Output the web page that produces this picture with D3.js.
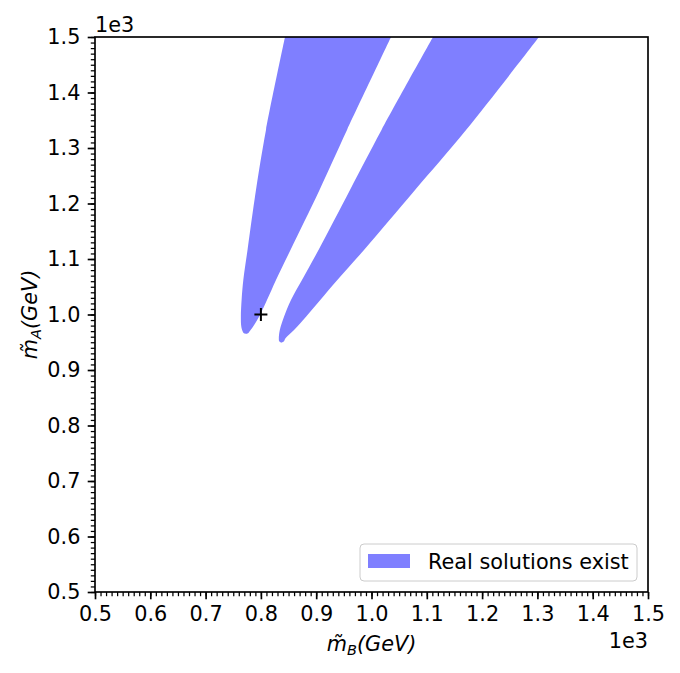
<!DOCTYPE html>
<html>
<head>
<meta charset="utf-8">
<script src="https://cdn.jsdelivr.net/npm/d3@7"></script>
<style>
  body { margin: 0; background: #fff; }
  svg, svg text { font-family: "DejaVu Sans", sans-serif; }
</style>
</head>
<body>
<svg id="chart"></svg>
<script>
// region where real solutions exist: two lobes, left/right edges at given mA levels (GeV)
const lobeA_y    = [964.9, 966.0, 969.0, 978.0, 996.0, 1026.1, 1062.2, 1116.2, 1224.3, 1332.4, 1500];
const lobeA_xmin = [773.1, 769.4, 767.3, 764.6, 763.8, 765.1, 768.2, 775.8, 791.1, 809.2, 843.6];
const lobeA_xmax = [773.1, 776.7, 779.0, 785.7, 796.6, 811.0, 827.3, 853.5, 906.0, 955.7, 1035.3];

const lobeB_y    = [949.2, 951.9, 957.1, 972.1, 996.0, 1026.1, 1062.2, 1116.2, 1224.3, 1332.4, 1500];
const lobeB_xmin = [836.9, 833.1, 832.4, 834.2, 841.8, 854.4, 874.3, 904.2, 961.1, 1018.1, 1111.2];
const lobeB_xmax = [836.9, 841.8, 844.5, 859.9, 881.6, 907.4, 938.2, 986.4, 1078.7, 1170.9, 1302.9];

// benchmark point
const pointB = [800];
const pointA = [1000];

const majorTicks = [500, 600, 700, 800, 900, 1000, 1100, 1200, 1300, 1400, 1500];
const tickLabels = ['0.5', '0.6', '0.7', '0.8', '0.9', '1.0', '1.1', '1.2', '1.3', '1.4', '1.5'];
const minorTicks = d3.range(500, 1501, 10);

const legendLabel = 'Real solutions exist';

const width = 680, height = 673;
const margin = { top: 37, right: 32, bottom: 81, left: 95 };
const w = width - margin.left - margin.right;
const h = height - margin.top - margin.bottom;
const fill = '#7f7fff';
const fs = '20.8px';

const svg = d3.select('#chart').attr('width', width).attr('height', height);
const g = svg.append('g').attr('transform', `translate(${margin.left},${margin.top})`);

const x = d3.scaleLinear().domain([500, 1500]).range([0, w]);
const y = d3.scaleLinear().domain([500, 1500]).range([h, 0]);

svg.append('defs').append('clipPath').attr('id', 'plotclip')
  .append('rect').attr('width', w).attr('height', h);

const area = d3.area()
  .y(d => y(d[0]))
  .x0(d => x(d[1]))
  .x1(d => x(d[2]))
  .curve(d3.curveCatmullRom.alpha(0.5));

const lobes = [
  d3.zip(lobeA_y, lobeA_xmin, lobeA_xmax),
  d3.zip(lobeB_y, lobeB_xmin, lobeB_xmax)
];

g.append('g').attr('clip-path', 'url(#plotclip)')
  .selectAll('path')
  .data(lobes)
  .join('path')
  .attr('d', area)
  .attr('fill', fill);

// + marker
const pts = d3.zip(pointB, pointA);
g.selectAll('.mark')
  .data(pts)
  .join('path')
  .attr('class', 'mark')
  .attr('d', d => {
    const cx = x(d[0]), cy = y(d[1]), s = 6.5;
    return `M${cx - s},${cy}H${cx + s}M${cx},${cy - s}V${cy + s}`;
  })
  .attr('stroke', '#000')
  .attr('stroke-width', 2);

// axes
const fmt = d => tickLabels[majorTicks.indexOf(d)];

function styleAxis(sel) {
  sel.attr('font-family', null).attr('font-size', null);
  sel.select('.domain').remove();
  sel.selectAll('line').attr('stroke', '#000');
  sel.selectAll('text').attr('fill', '#000').style('font-size', fs);
}

g.append('g').attr('transform', `translate(0,${h})`)
  .call(d3.axisBottom(x).tickValues(minorTicks).tickSize(4.2).tickFormat(''))
  .call(styleAxis)
  .selectAll('line').attr('stroke-width', 1.25);
g.append('g').call(d3.axisLeft(y).tickValues(minorTicks).tickSize(4.2).tickFormat(''))
  .call(styleAxis)
  .selectAll('line').attr('stroke-width', 1.25);

const xAxis = g.append('g').attr('transform', `translate(0,${h})`)
  .call(d3.axisBottom(x).tickValues(majorTicks).tickSize(7.3).tickPadding(7.3).tickFormat(fmt))
  .call(styleAxis);
xAxis.selectAll('line').attr('stroke-width', 1.67);

const yAxis = g.append('g')
  .call(d3.axisLeft(y).tickValues(majorTicks).tickSize(7.3).tickPadding(7.3).tickFormat(fmt))
  .call(styleAxis);
yAxis.selectAll('line').attr('stroke-width', 1.67);

// frame
g.append('rect')
  .attr('width', w).attr('height', h)
  .attr('fill', 'none')
  .attr('stroke', '#000')
  .attr('stroke-width', 1.67);

// offset texts
g.append('text').attr('x', 0).attr('y', -5)
  .style('font-size', fs).text('1e3');
g.append('text').attr('x', w).attr('y', h + 56)
  .attr('text-anchor', 'end')
  .style('font-size', fs).text('1e3');

// axis labels
function mathLabel(sel, sub) {
  sel.style('font-size', fs).style('font-style', 'italic');
  sel.append('tspan').text('m\u0303');
  sel.append('tspan').attr('baseline-shift', '-25%').style('font-size', '14.5px').text(sub);
  sel.append('tspan').text('(GeV)');
}

g.append('text')
  .attr('x', w / 2).attr('y', h + 59)
  .attr('text-anchor', 'middle')
  .call(mathLabel, 'B');

g.append('text')
  .attr('transform', `translate(-58,${h / 2}) rotate(-90)`)
  .attr('text-anchor', 'middle')
  .call(mathLabel, 'A');

// legend
const legend = g.append('g').attr('transform', `translate(${w - 288},${h - 48})`);
legend.append('rect')
  .attr('width', 277).attr('height', 37)
  .attr('rx', 4).attr('ry', 4)
  .attr('fill', '#fff').attr('fill-opacity', 0.8)
  .attr('stroke', '#cccccc').attr('stroke-width', 1);
legend.append('rect')
  .attr('x', 8).attr('y', 10)
  .attr('width', 42).attr('height', 14)
  .attr('fill', fill);
legend.append('text')
  .attr('x', 68).attr('y', 25)
  .style('font-size', fs)
  .text(legendLabel);
</script>
</body>
</html>
